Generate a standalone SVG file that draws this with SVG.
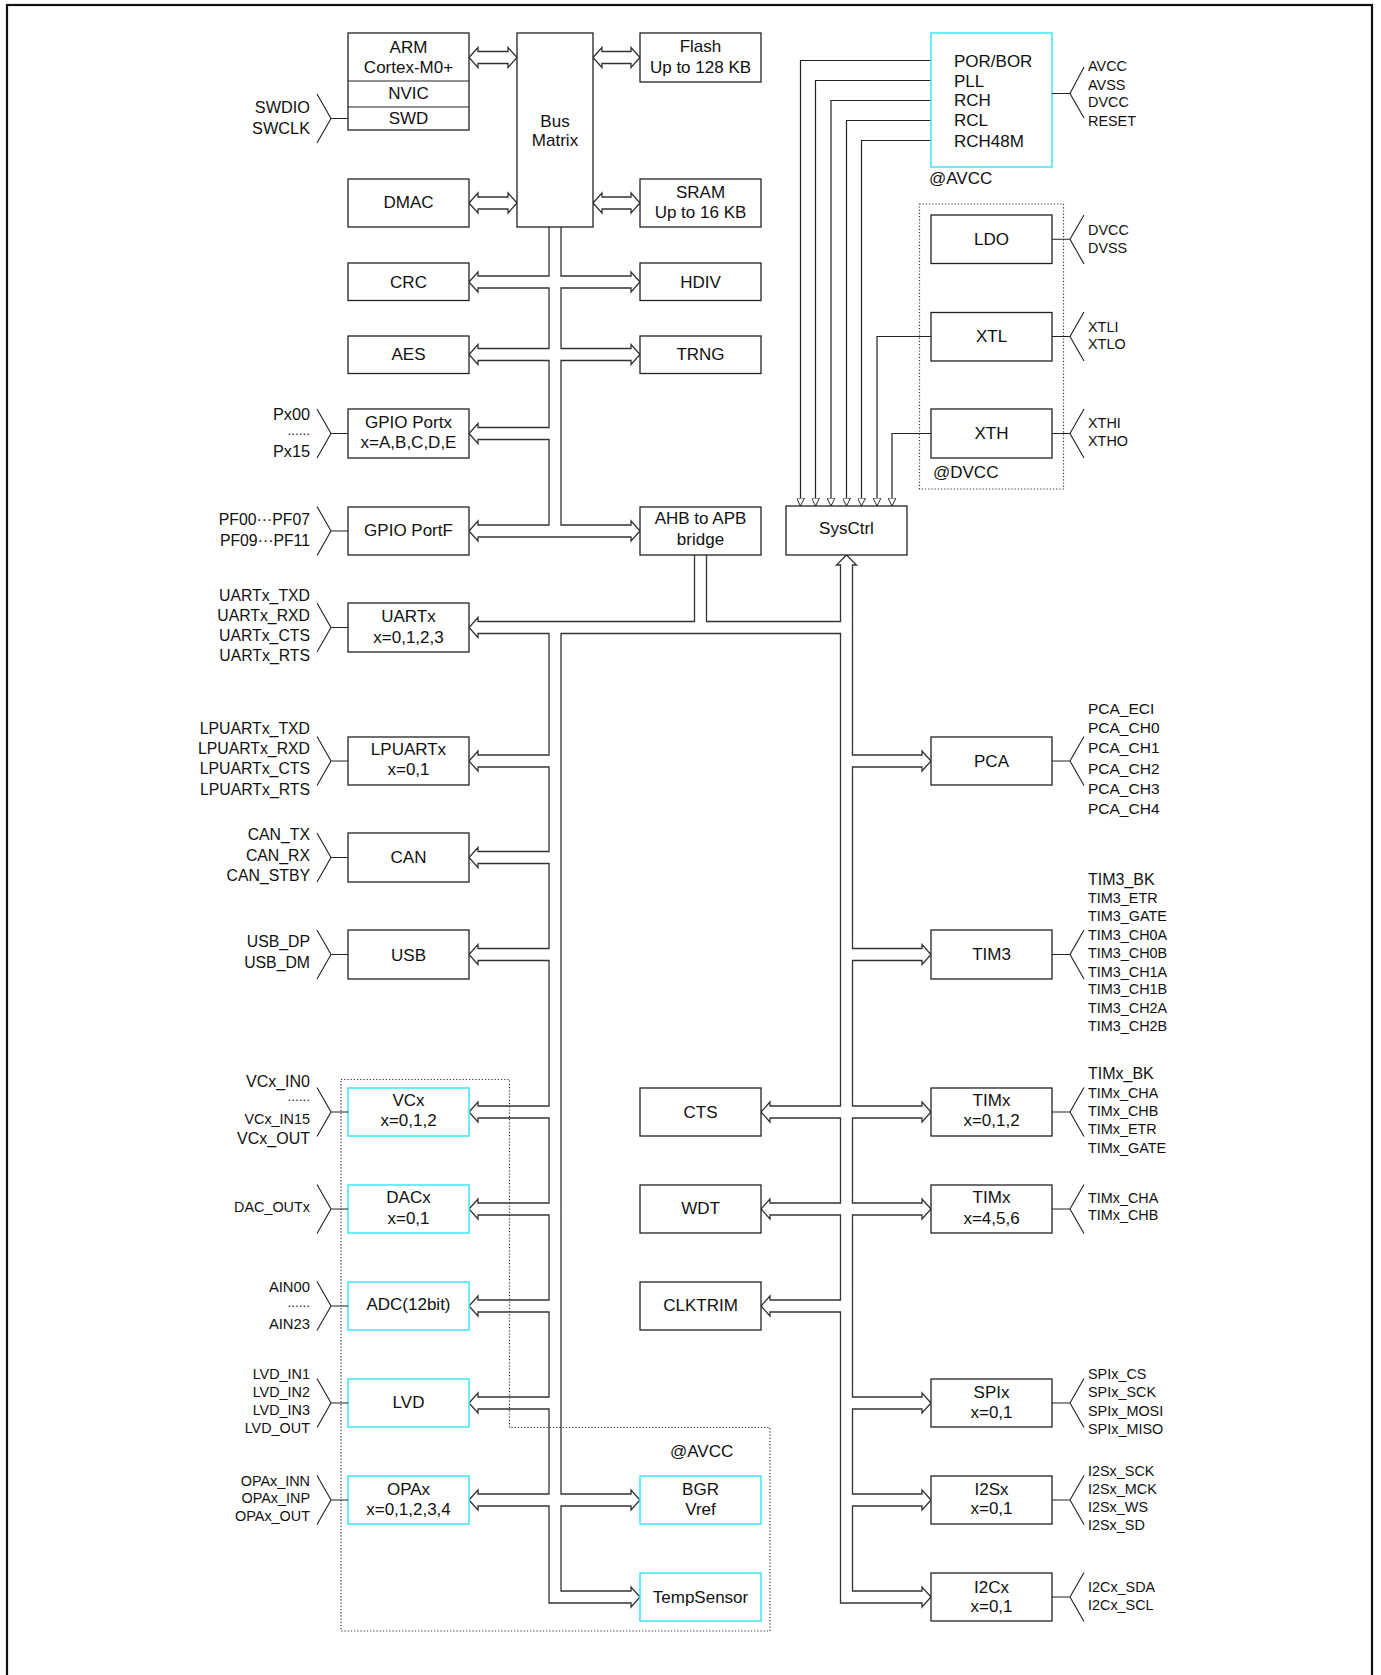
<svg xmlns="http://www.w3.org/2000/svg" width="1381" height="1675" viewBox="0 0 1381 1675">
<style>
.box{fill:#fff;stroke:#222;stroke-width:1.3}
.cy{fill:#fff;stroke:#3ce6f5;stroke-width:1.5}
.t{font-family:"Liberation Sans",Arial,sans-serif;font-size:17px;fill:#111;text-anchor:middle}
.ta{font-family:"Liberation Sans",Arial,sans-serif;font-size:17px;fill:#111}
.l{font-family:"Liberation Sans",Arial,sans-serif;font-size:15.8px;fill:#111;text-anchor:end}
.lb{font-family:"Liberation Sans",Arial,sans-serif;font-size:16.3px;fill:#111;text-anchor:end}
.ls{font-family:"Liberation Sans",Arial,sans-serif;font-size:14.4px;fill:#111;text-anchor:end}
.r{font-family:"Liberation Sans",Arial,sans-serif;font-size:15.5px;fill:#111}
.rb{font-family:"Liberation Sans",Arial,sans-serif;font-size:16px;fill:#111}
.rs{font-family:"Liberation Sans",Arial,sans-serif;font-size:14.4px;fill:#111}
.bus{fill:none;stroke:#333;stroke-width:1.3;stroke-linejoin:miter}
.dbl{fill:#fff;stroke:#333;stroke-width:1.3}
.ln{fill:none;stroke:#222;stroke-width:1.2}
.fan{fill:none;stroke:#222;stroke-width:1.1}
.dot{fill:none;stroke:#333;stroke-width:1.2;stroke-dasharray:1.2 2}
</style>
<defs>
<marker id="tri" viewBox="0 0 10 10" refX="10" refY="5" markerWidth="8" markerHeight="8" markerUnits="userSpaceOnUse" orient="auto">
<path d="M0,0 L10,5 L0,10 Z" fill="#fff" stroke="#222" stroke-width="1.2"/>
</marker>
</defs>
<rect width="1381" height="1675" fill="#fff"/>
<rect x="7" y="5" width="1365" height="1690" fill="none" stroke="#111" stroke-width="2.2"/>

<g id="regions">
<rect class="dot" x="919.5" y="204" width="144" height="285"/>
<path class="dot" d="M341,1079.5 H509.5 V1427.5 H770 V1631 H341 Z"/>
<text class="ta" x="929" y="184">@AVCC</text>
<text class="ta" x="933" y="478.3">@DVCC</text>
<text class="ta" x="670" y="1456.7">@AVCC</text>
</g>

<g id="connectors">
<path class="dbl" d="M469,57.5 L478,47.5 V51.5 H508 V47.5 L517,57.5 L508,67.5 V63.5 H478 V67.5 Z"/>
<path class="dbl" d="M593,57.5 L602,47.5 V51.5 H631 V47.5 L640,57.5 L631,67.5 V63.5 H602 V67.5 Z"/>
<path class="dbl" d="M469,203 L478,193 V197 H508 V193 L517,203 L508,213 V209 H478 V213 Z"/>
<path class="dbl" d="M593,203 L602,193 V197 H631 V193 L640,203 L631,213 V209 H602 V213 Z"/>
<path class="bus" d="M549,227 V276 H478 V272 L469,282 L478,292 V288 H549 V348.5 H478 V344.5 L469,354.5 L478,364.5 V360.5 H549 V427.5 H478 V423.5 L469,433.5 L478,443.5 V439.5 H549 V525 H478 V521 L469,531 L478,541 V537 H631 V541 L640,531 L631,521 V525 H561 V360.5 H631 V364.5 L640,354.5 L631,344.5 V348.5 H561 V288 H631 V292 L640,282 L631,272 V276 H561 V227"/>
<path class="bus" d="M694.5,555 V621.5 H478 V617.5 L469,627.5 L478,637.5 V633.5 H549
V755 H478 V751 L469,761 L478,771 V767 H549
V851.5 H478 V847.5 L469,857.5 L478,867.5 V863.5 H549
V948.5 H478 V944.5 L469,954.5 L478,964.5 V960.5 H549
V1106 H478 V1102 L469,1112 L478,1122 V1118 H549
V1203 H478 V1199 L469,1209 L478,1219 V1215 H549
V1300 H478 V1296 L469,1306 L478,1316 V1312 H549
V1397 H478 V1393 L469,1403 L478,1413 V1409 H549
V1494 H478 V1490 L469,1500 L478,1510 V1506 H549
V1603 H631 V1607 L640,1597 L631,1587 V1591 H561
V1506 H631 V1510 L640,1500 L631,1490 V1494 H561
V633.5 H840.5
V1106 H770 V1102 L761,1112 L770,1122 V1118 H840.5
V1203 H770 V1199 L761,1209 L770,1219 V1215 H840.5
V1300 H770 V1296 L761,1306 L770,1316 V1312 H840.5
V1603 H922 V1607 L931,1597 L922,1587 V1591 H852.5
V1506 H922 V1510 L931,1500 L922,1490 V1494 H852.5
V1409 H922 V1413 L931,1403 L922,1393 V1397 H852.5
V1215 H922 V1219 L931,1209 L922,1199 V1203 H852.5
V1118 H922 V1122 L931,1112 L922,1102 V1106 H852.5
V960.5 H922 V964.5 L931,954.5 L922,944.5 V948.5 H852.5
V767 H922 V771 L931,761 L922,751 V755 H852.5
V565 H856.5 L846.5,555 L836.5,565 H840.5 V621.5 H706.5 V555"/>
<path class="ln" marker-end="url(#tri)" d="M931,60.5 H800.5 V506"/>
<path class="ln" marker-end="url(#tri)" d="M931,80.5 H815.5 V506"/>
<path class="ln" marker-end="url(#tri)" d="M931,100.5 H831 V506"/>
<path class="ln" marker-end="url(#tri)" d="M931,120.5 H846.5 V506"/>
<path class="ln" marker-end="url(#tri)" d="M931,140.5 H861.5 V506"/>
<path class="ln" marker-end="url(#tri)" d="M931,336.5 H877 V506"/>
<path class="ln" marker-end="url(#tri)" d="M931,433.5 H892 V506"/>
</g>

<g id="cpu">
<rect class="box" x="348" y="33" width="121" height="97"/>
<path class="ln" d="M348,81 H469 M348,107 H469"/>
<text class="t" x="408.5" y="52.7">ARM</text>
<text class="t" x="408.5" y="72.7">Cortex-M0+</text>
<text class="t" x="408.5" y="99.3">NVIC</text>
<text class="t" x="408.5" y="124.3">SWD</text>
<path class="fan" d="M348,118.5 H331 M317,94 L331,118.5 L317,143"/>
<text class="lb" x="310" y="112.8">SWDIO</text>
<text class="lb" x="310" y="133.8">SWCLK</text>
</g>
<g id="busmatrix">
<rect class="box" x="517" y="33" width="76" height="194"/>
<text class="t" x="555" y="126.7">Bus</text>
<text class="t" x="555" y="146">Matrix</text>
</g>
<g id="flash">
<rect class="box" x="640" y="33" width="121" height="49"/>
<text class="t" x="700.5" y="52">Flash</text>
<text class="t" x="700.5" y="72.7">Up to 128 KB</text>
</g>
<g id="dmac">
<rect class="box" x="348" y="179" width="121" height="48"/>
<text class="t" x="408.5" y="208.3">DMAC</text>
</g>
<g id="sram">
<rect class="box" x="640" y="179" width="121" height="48"/>
<text class="t" x="700.5" y="197.7">SRAM</text>
<text class="t" x="700.5" y="217.7">Up to 16 KB</text>
</g>
<g id="crc">
<rect class="box" x="348" y="263" width="121" height="37.5"/>
<text class="t" x="408.5" y="287.7">CRC</text>
</g>
<g id="hdiv">
<rect class="box" x="640" y="263" width="121" height="37.5"/>
<text class="t" x="700.5" y="287.7">HDIV</text>
</g>
<g id="aes">
<rect class="box" x="348" y="336" width="121" height="37.5"/>
<text class="t" x="408.5" y="360.3">AES</text>
</g>
<g id="trng">
<rect class="box" x="640" y="336" width="121" height="37.5"/>
<text class="t" x="700.5" y="360.3">TRNG</text>
</g>
<g id="gpiox">
<rect class="box" x="348" y="409" width="121" height="49"/>
<text class="t" x="408.5" y="427.7">GPIO Portx</text>
<text class="t" x="408.5" y="447.7">x=A,B,C,D,E</text>
<path class="fan" d="M348,433.5 H331 M317,409 L331,433.5 L317,458"/>
<text class="lb" x="310" y="419.6">Px00</text>
<text class="ls" x="310" y="434.5" style="font-size:13.5px">......</text>
<text class="lb" x="310" y="457.3">Px15</text>
</g>
<g id="gpiof">
<rect class="box" x="348" y="507" width="121" height="48"/>
<text class="t" x="408.5" y="536">GPIO PortF</text>
<path class="fan" d="M348,531 H331 M317,506.5 L331,531 L317,555.5"/>
<text class="l" x="310" y="525.4">PF00···PF07</text>
<text class="l" x="310" y="546.1">PF09···PF11</text>
</g>
<g id="ahb2apb">
<rect class="box" x="640" y="507" width="121" height="48"/>
<text class="t" x="700.5" y="524">AHB to APB</text>
<text class="t" x="700.5" y="545">bridge</text>
</g>
<g id="sysctrl">
<rect class="box" x="786" y="506" width="121" height="49"/>
<text class="t" x="846.5" y="534">SysCtrl</text>
</g>
<g id="porbor">
<rect class="cy" x="931" y="33" width="121" height="134"/>
<text class="ta" x="954" y="66.7">POR/BOR</text>
<text class="ta" x="954" y="86.7">PLL</text>
<text class="ta" x="954" y="106">RCH</text>
<text class="ta" x="954" y="126">RCL</text>
<text class="ta" x="954" y="146.7">RCH48M</text>
<path class="fan" d="M1052,93.5 H1070 M1084,67 L1070,93.5 L1084,118"/>
<text class="rs" x="1088" y="70.9">AVCC</text>
<text class="rs" x="1088" y="89.9">AVSS</text>
<text class="rs" x="1088" y="107.4">DVCC</text>
<text class="rs" x="1088" y="125.6">RESET</text>
</g>
<g id="ldo">
<rect class="box" x="931" y="215" width="121" height="48.5"/>
<text class="t" x="991.5" y="245.3">LDO</text>
<path class="fan" d="M1052,239.3 H1070 M1084,215 L1070,239.3 L1084,264"/>
<text class="rs" x="1088" y="234.5">DVCC</text>
<text class="rs" x="1088" y="252.7">DVSS</text>
</g>
<g id="xtl">
<rect class="box" x="931" y="312.5" width="121" height="48.5"/>
<text class="t" x="991.5" y="342">XTL</text>
<path class="fan" d="M1052,336.5 H1070 M1084,312 L1070,336.5 L1084,361"/>
<text class="rs" x="1088" y="331.7">XTLI</text>
<text class="rs" x="1088" y="348.8">XTLO</text>
</g>
<g id="xth">
<rect class="box" x="931" y="409" width="121" height="49"/>
<text class="t" x="991.5" y="439.3">XTH</text>
<path class="fan" d="M1052,433.5 H1070 M1084,409 L1070,433.5 L1084,458"/>
<text class="rs" x="1088" y="427.8">XTHI</text>
<text class="rs" x="1088" y="445.9">XTHO</text>
</g>
<g id="uart">
<rect class="box" x="348" y="603" width="121" height="49"/>
<text class="t" x="408.5" y="622">UARTx</text>
<text class="t" x="408.5" y="642.7">x=0,1,2,3</text>
<path class="fan" d="M348,627.5 H331 M317,603 L331,627.5 L317,652"/>
<text class="l" x="310" y="601.4">UARTx_TXD</text>
<text class="l" x="310" y="621.4">UARTx_RXD</text>
<text class="l" x="310" y="641.4">UARTx_CTS</text>
<text class="l" x="310" y="661.4">UARTx_RTS</text>
</g>
<g id="lpuart">
<rect class="box" x="348" y="737" width="121" height="48"/>
<text class="t" x="408.5" y="755.3">LPUARTx</text>
<text class="t" x="408.5" y="775.3">x=0,1</text>
<path class="fan" d="M348,761 H331 M317,736.5 L331,761 L317,785.5"/>
<text class="l" x="310" y="733.7">LPUARTx_TXD</text>
<text class="l" x="310" y="753.7">LPUARTx_RXD</text>
<text class="l" x="310" y="773.7">LPUARTx_CTS</text>
<text class="l" x="310" y="794.7">LPUARTx_RTS</text>
</g>
<g id="can">
<rect class="box" x="348" y="833" width="121" height="49"/>
<text class="t" x="408.5" y="863.3">CAN</text>
<path class="fan" d="M348,857.5 H331 M317,833 L331,857.5 L317,882"/>
<text class="l" x="310" y="840.4">CAN_TX</text>
<text class="l" x="310" y="861.1">CAN_RX</text>
<text class="l" x="310" y="881.4">CAN_STBY</text>
</g>
<g id="usb">
<rect class="box" x="348" y="930" width="121" height="49"/>
<text class="t" x="408.5" y="960.5">USB</text>
<path class="fan" d="M348,954.5 H331 M317,930 L331,954.5 L317,979"/>
<text class="l" x="310" y="947.4">USB_DP</text>
<text class="l" x="310" y="967.7">USB_DM</text>
</g>
<g id="vc">
<rect class="cy" x="348" y="1088" width="121" height="48"/>
<text class="t" x="408.5" y="1106">VCx</text>
<text class="t" x="408.5" y="1126">x=0,1,2</text>
<path class="fan" d="M348,1112 H331 M317,1087.5 L331,1112 L317,1136.5"/>
<text class="lb" x="310" y="1086.6" style="font-size:16px">VCx_IN0</text>
<text class="ls" x="310" y="1101" style="font-size:13.5px">......</text>
<text class="ls" x="310" y="1123.6">VCx_IN15</text>
<text class="lb" x="310" y="1143.9" style="font-size:16px">VCx_OUT</text>
</g>
<g id="dac">
<rect class="cy" x="348" y="1185" width="121" height="48"/>
<text class="t" x="408.5" y="1203.3">DACx</text>
<text class="t" x="408.5" y="1223.7">x=0,1</text>
<path class="fan" d="M348,1209 H331 M317,1184.5 L331,1209 L317,1233.5"/>
<text class="ls" x="310" y="1212.2">DAC_OUTx</text>
</g>
<g id="adc">
<rect class="cy" x="348" y="1282" width="121" height="48"/>
<text class="t" x="408.5" y="1310.3">ADC(12bit)</text>
<path class="fan" d="M348,1306 H331 M317,1281.5 L331,1306 L317,1330.5"/>
<text class="ls" x="310" y="1291.8" style="font-size:14.8px">AIN00</text>
<text class="ls" x="310" y="1306.5" style="font-size:13.5px">......</text>
<text class="ls" x="310" y="1329" style="font-size:14.8px">AIN23</text>
</g>
<g id="lvd">
<rect class="cy" x="348" y="1379" width="121" height="48"/>
<text class="t" x="408.5" y="1408.3">LVD</text>
<path class="fan" d="M348,1403 H331 M317,1378.5 L331,1403 L317,1427.5"/>
<text class="ls" x="310" y="1378.9">LVD_IN1</text>
<text class="ls" x="310" y="1396.6">LVD_IN2</text>
<text class="ls" x="310" y="1414.9">LVD_IN3</text>
<text class="ls" x="310" y="1433.2">LVD_OUT</text>
</g>
<g id="opa">
<rect class="cy" x="348" y="1476" width="121" height="48"/>
<text class="t" x="408.5" y="1495">OPAx</text>
<text class="t" x="408.5" y="1515">x=0,1,2,3,4</text>
<path class="fan" d="M348,1500 H331 M317,1475.5 L331,1500 L317,1524.5"/>
<text class="ls" x="310" y="1485.6">OPAx_INN</text>
<text class="ls" x="310" y="1503.2">OPAx_INP</text>
<text class="ls" x="310" y="1520.9">OPAx_OUT</text>
</g>
<g id="cts">
<rect class="box" x="640" y="1088" width="121" height="48"/>
<text class="t" x="700.5" y="1117.7">CTS</text>
</g>
<g id="wdt">
<rect class="box" x="640" y="1185" width="121" height="48"/>
<text class="t" x="700.5" y="1214.3">WDT</text>
</g>
<g id="clktrim">
<rect class="box" x="640" y="1282" width="121" height="48"/>
<text class="t" x="700.5" y="1311">CLKTRIM</text>
</g>
<g id="bgr">
<rect class="cy" x="640" y="1476" width="121" height="48"/>
<text class="t" x="700.5" y="1495">BGR</text>
<text class="t" x="700.5" y="1515">Vref</text>
</g>
<g id="tempsensor">
<rect class="cy" x="640" y="1573" width="121" height="48"/>
<text class="t" x="700.5" y="1602.7">TempSensor</text>
</g>
<g id="pca">
<rect class="box" x="931" y="737" width="121" height="48"/>
<text class="t" x="991.5" y="766.7">PCA</text>
<path class="fan" d="M1052,761 H1070 M1084,736.5 L1070,761 L1084,785.5"/>
<text class="r" x="1088" y="713.7">PCA_ECI</text>
<text class="r" x="1088" y="733.4">PCA_CH0</text>
<text class="r" x="1088" y="753.4">PCA_CH1</text>
<text class="r" x="1088" y="774.4">PCA_CH2</text>
<text class="r" x="1088" y="794.4">PCA_CH3</text>
<text class="r" x="1088" y="814.4">PCA_CH4</text>
</g>
<g id="tim3">
<rect class="box" x="931" y="930" width="121" height="49"/>
<text class="t" x="991.5" y="960">TIM3</text>
<path class="fan" d="M1052,954.5 H1070 M1084,930 L1070,954.5 L1084,979"/>
<text class="rb" x="1088" y="884.9">TIM3_BK</text>
<text class="rs" x="1088" y="902.6">TIM3_ETR</text>
<text class="rs" x="1088" y="920.9">TIM3_GATE</text>
<text class="rs" x="1088" y="939.9">TIM3_CH0A</text>
<text class="rs" x="1088" y="958.2">TIM3_CH0B</text>
<text class="rs" x="1088" y="976.6">TIM3_CH1A</text>
<text class="rs" x="1088" y="993.9">TIM3_CH1B</text>
<text class="rs" x="1088" y="1013.1">TIM3_CH2A</text>
<text class="rs" x="1088" y="1031.2">TIM3_CH2B</text>
</g>
<g id="tim012">
<rect class="box" x="931" y="1088" width="121" height="48"/>
<text class="t" x="991.5" y="1106">TIMx</text>
<text class="t" x="991.5" y="1126">x=0,1,2</text>
<path class="fan" d="M1052,1112 H1070 M1084,1087.5 L1070,1112 L1084,1136.5"/>
<text class="rb" x="1088" y="1078.9">TIMx_BK</text>
<text class="rs" x="1088" y="1098.2">TIMx_CHA</text>
<text class="rs" x="1088" y="1115.9">TIMx_CHB</text>
<text class="rs" x="1088" y="1133.9">TIMx_ETR</text>
<text class="rs" x="1088" y="1152.6">TIMx_GATE</text>
</g>
<g id="tim456">
<rect class="box" x="931" y="1185" width="121" height="48"/>
<text class="t" x="991.5" y="1203.3">TIMx</text>
<text class="t" x="991.5" y="1223.7">x=4,5,6</text>
<path class="fan" d="M1052,1209 H1070 M1084,1184.5 L1070,1209 L1084,1233.5"/>
<text class="rs" x="1088" y="1202.6">TIMx_CHA</text>
<text class="rs" x="1088" y="1220.2">TIMx_CHB</text>
</g>
<g id="spi">
<rect class="box" x="931" y="1379" width="121" height="48"/>
<text class="t" x="991.5" y="1397.7">SPIx</text>
<text class="t" x="991.5" y="1418.3">x=0,1</text>
<path class="fan" d="M1052,1403 H1070 M1084,1378.5 L1070,1403 L1084,1427.5"/>
<text class="rs" x="1088" y="1379.2">SPIx_CS</text>
<text class="rs" x="1088" y="1397.2">SPIx_SCK</text>
<text class="rs" x="1088" y="1415.6">SPIx_MOSI</text>
<text class="rs" x="1088" y="1433.9">SPIx_MISO</text>
</g>
<g id="i2s">
<rect class="box" x="931" y="1476" width="121" height="48"/>
<text class="t" x="991.5" y="1495">I2Sx</text>
<text class="t" x="991.5" y="1514.3">x=0,1</text>
<path class="fan" d="M1052,1500 H1070 M1084,1475.5 L1070,1500 L1084,1524.5"/>
<text class="rs" x="1088" y="1475.9">I2Sx_SCK</text>
<text class="rs" x="1088" y="1494.2">I2Sx_MCK</text>
<text class="rs" x="1088" y="1512.2">I2Sx_WS</text>
<text class="rs" x="1088" y="1529.9">I2Sx_SD</text>
</g>
<g id="i2c">
<rect class="box" x="931" y="1573" width="121" height="48"/>
<text class="t" x="991.5" y="1593.3">I2Cx</text>
<text class="t" x="991.5" y="1612">x=0,1</text>
<path class="fan" d="M1052,1597 H1070 M1084,1572.5 L1070,1597 L1084,1621.5"/>
<text class="rs" x="1088" y="1592.2">I2Cx_SDA</text>
<text class="rs" x="1088" y="1609.9">I2Cx_SCL</text>
</g>
</svg>
